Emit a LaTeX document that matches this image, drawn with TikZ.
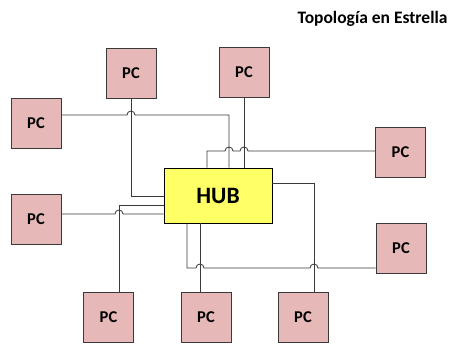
\documentclass[tikz,border=0pt]{standalone}
\usepackage{fontspec}
\setmainfont{Carlito}
\usetikzlibrary{calc}
\definecolor{pcfill}{HTML}{E6B9B8}
\definecolor{hubfill}{HTML}{FFFF66}
\definecolor{wire}{HTML}{3A3A3A}
\begin{document}
\begin{tikzpicture}[x=1pt,y=-1pt,
  pcbox/.style={draw=wire,line width=0.9pt,fill=pcfill,minimum width=50pt,minimum height=50pt,inner sep=0pt,font=\fontsize{16.5}{16.5}\selectfont\bfseries},
  hubbox/.style={draw=black,line width=0.9pt,fill=hubfill,minimum width=108pt,minimum height=55pt,inner sep=0pt,font=\fontsize{23.5}{23.5}\selectfont\bfseries},
  cable/.style={draw=wire,line width=0.85pt}]
\useasboundingbox (0,0) rectangle (455,343);
\def\hop{4pt}

% title
\node[anchor=east,font=\fontsize{17.5}{17.5}\selectfont\bfseries] (title) at (451,19) {Topología en Estrella};

% hub and stations
\node[hubbox] (hub) at (218,195.5) {HUB};
\node[pcbox] (pcTL) at (131,73) {PC};
\node[pcbox] (pcTR) at (244,72) {PC};
\node[pcbox] (pcL1) at (36,123.5) {PC};
\node[pcbox] (pcL2) at (36,219.5) {PC};
\node[pcbox] (pcR1) at (400.5,152) {PC};
\node[pcbox] (pcR2) at (401,248) {PC};
\node[pcbox] (pcB1) at (108.5,317.5) {PC};
\node[pcbox] (pcB2) at (206,317.5) {PC};
\node[pcbox] (pcB3) at (303,317.5) {PC};

% cables (hops where one cable crosses another)
\draw[cable] (pcTL.south) -- (pcTL.south |- 0,196) -- (hub.west |- 0,196);
\draw[cable] (pcL1.east |- 0,115) -- (127,115) arc (180:0:\hop) -- (229,115) -- (hub.north -| 229,0);
\draw[cable] (pcTR.south) -- (hub.north -| 244,0);
\draw[cable] (pcR1.west |- 0,151) -- (248,151) arc (0:180:\hop) -- (233,151) arc (0:180:\hop) -- (207,151) -- (hub.north -| 207,0);
\draw[cable] (pcR2.west |- 0,268) -- (318,268) arc (0:180:\hop) -- (204,268) arc (0:180:\hop) -- (187,268) -- (hub.south -| 187,0);
\draw[cable] (hub.south -| 200,0) -- (pcB2.north -| 200,0);
\draw[cable] (pcB3.north -| 314,0) -- (314,183) -- (hub.east |- 0,183);
\draw[cable] (pcL2.east |- 0,214) -- (115,214) arc (180:0:\hop) -- (hub.west |- 0,214);
\draw[cable] (pcB1.north -| 119,0) -- (119,205) -- (hub.west |- 0,205);
\end{tikzpicture}
\end{document}
